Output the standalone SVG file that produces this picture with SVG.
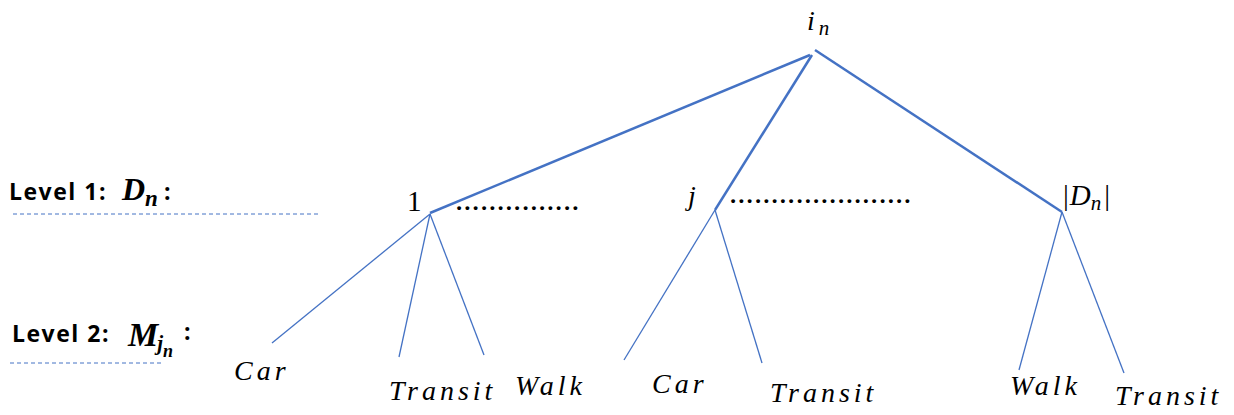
<svg xmlns="http://www.w3.org/2000/svg" width="1234" height="415" viewBox="0 0 1234 415">
<style>
.m{font-family:"Liberation Serif","DejaVu Serif",serif;font-style:italic;font-size:28px;fill:#000;letter-spacing:4px}
.r{font-family:"Liberation Serif","DejaVu Serif",serif;font-size:29px;fill:#000}
.lbl{font-family:"Open Sans","Liberation Sans",sans-serif;font-weight:bold;font-size:23px;fill:#000;letter-spacing:1.5px}
.bm{font-family:"Liberation Serif",serif;font-style:italic;font-weight:bold;fill:#000}
.dots{font-family:"Liberation Serif",serif;font-style:italic;font-weight:bold;font-size:24px;fill:#000;letter-spacing:2.3px}
.thick{stroke:#4472C4;stroke-width:2.5;fill:none}
.thin{stroke:#4472C4;stroke-width:1.3;fill:none}
.dash{stroke:#4472C4;stroke-width:1;stroke-dasharray:4 3;fill:none}
</style>
<g id="connectors">
<line class="thick" x1="810" y1="55" x2="430" y2="213"/>
<line class="thick" x1="812" y1="55" x2="715" y2="210"/>
<line class="thick" x1="815" y1="50" x2="1062" y2="212"/>
<line class="thin" x1="430" y1="214" x2="272" y2="343"/>
<line class="thin" x1="430" y1="214" x2="399" y2="357"/>
<line class="thin" x1="430" y1="214" x2="484" y2="355"/>
<line class="thin" x1="715" y1="210" x2="624" y2="360"/>
<line class="thin" x1="715" y1="210" x2="762" y2="363"/>
<line class="thin" x1="1062" y1="212" x2="1019" y2="370"/>
<line class="thin" x1="1062" y1="212" x2="1124" y2="373"/>
</g>
<g id="level1">
<text class="lbl" x="9" y="200">Level 1:</text>
<text class="bm" x="122" y="200" font-size="32">D<tspan font-size="23" dy="6">n</tspan></text>
<text class="lbl" x="164" y="200">:</text>
<line class="dash" x1="13" y1="214" x2="318" y2="214"/>
</g>
<g id="level2">
<text class="lbl" x="12" y="342">Level 2:</text>
<text class="bm" x="128" y="346" font-size="34">M<tspan font-size="21" dx="-1" dy="4">j</tspan><tspan font-size="18" dy="7">n</tspan></text>
<text class="lbl" x="184" y="340">:</text>
<line class="dash" x1="10" y1="363" x2="162" y2="363"/>
</g>
<g id="root">
<text class="m" x="807" y="30" letter-spacing="0">i<tspan font-size="21" dy="5">n</tspan></text>
</g>
<g id="node1">
<text class="r" x="407" y="211">1</text>
<text class="dots" x="457" y="210">...............</text>
</g>
<g id="nodej">
<text class="m" x="688" y="205" letter-spacing="0">j</text>
<text class="dots" x="731" y="203">......................</text>
</g>
<g id="nodeD">
<text class="r" x="1063" y="205">|<tspan font-style="italic" dx="1">D</tspan><tspan font-style="italic" font-size="21" dy="5">n</tspan><tspan dx="3" dy="-5">|</tspan></text>
</g>
<g id="leaf-car1"><text class="m" x="234" y="380">Car</text></g>
<g id="leaf-transit1"><text class="m" x="389" y="400">Transit</text></g>
<g id="leaf-walk1"><text class="m" x="515" y="395">Walk</text></g>
<g id="leaf-car2"><text class="m" x="652" y="393">Car</text></g>
<g id="leaf-transit2"><text class="m" x="770" y="402">Transit</text></g>
<g id="leaf-walk3"><text class="m" x="1010" y="395">Walk</text></g>
<g id="leaf-transit3"><text class="m" x="1115" y="405">Transit</text></g>
</svg>
